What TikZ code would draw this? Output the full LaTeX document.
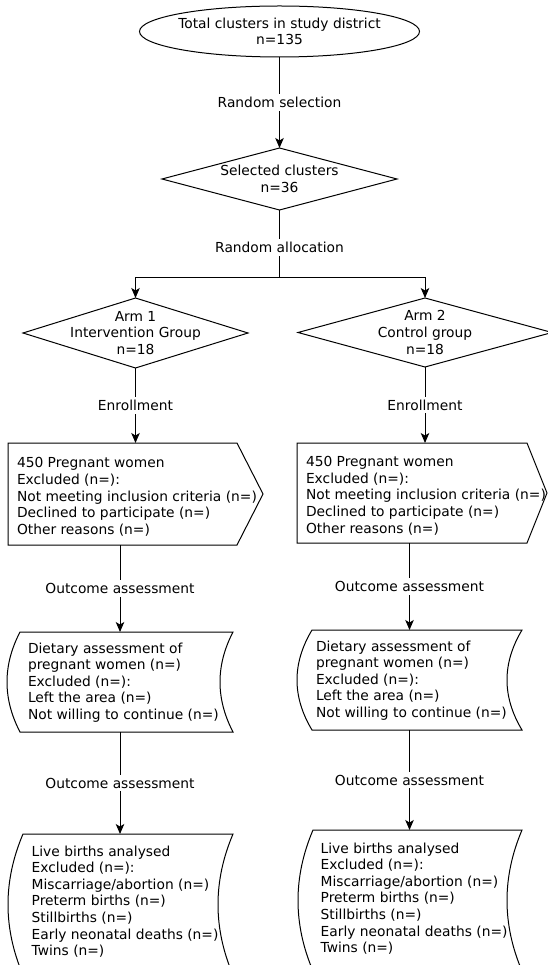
\documentclass[tikz,border=0pt]{standalone}
\usepackage{fontspec}
\setmainfont{DejaVu Sans}
\usetikzlibrary{arrows.meta,calc}

% data-storage outline: node name, bulge
\newcommand\dstore[2]{%
  \draw[plain] ($(#1.north west)+(#2,0)$) -- (#1.north east)
    .. controls ($(#1.north east)!1/3!(#1.south east)+(-4*#2/3,0)$) and ($(#1.north east)!2/3!(#1.south east)+(-4*#2/3,0)$) .. (#1.south east)
    -- ($(#1.south west)+(#2,0)$)
    .. controls ($(#1.south west)!1/3!(#1.north west)+(-#2/3,0)$) and ($(#1.south west)!2/3!(#1.north west)+(-#2/3,0)$) .. ($(#1.north west)+(#2,0)$) -- cycle;}
% signal outline: node name, point depth
\newcommand\sigshape[2]{%
  \draw[plain] (#1.north west) -- ($(#1.north east)+(-#2,0)$) -- (#1.east) -- ($(#1.south east)+(-#2,0)$) -- (#1.south west) -- cycle;}
\newcommand\diashape[1]{%
  \draw[plain] (#1.north) -- (#1.east) -- (#1.south) -- (#1.west) -- cycle;}

\tikzset{
  every node/.append style={font=\fontsize{13.8}{16.6}\selectfont},
  frame/.style={inner sep=0pt, outer sep=0pt, draw=none, align=center},
  lbl/.style={fill=white, inner sep=3pt},
  txt/.style={inner sep=0pt, outer sep=0pt, align=left, anchor=north west},
  plain/.style={line width=1pt, draw=black},
  conn/.style={line width=1pt, draw=black, -{Stealth[length=10pt,width=8.5pt,inset=2.5pt]}}
}

\begin{document}
\begin{tikzpicture}[x=1pt,y=-1pt]
\useasboundingbox (0,0) rectangle (547,965);

% top
\node[frame, minimum width=280pt, minimum height=51pt] (ell) at (279.5,31.5) {Total clusters in study district\\n=135};
\draw[plain] (ell.center) ellipse [x radius=140pt, y radius=25.5pt];

\node[frame, minimum width=235pt, minimum height=62pt] (sel) at (279.5,179) {Selected clusters\\n=36};
\diashape{sel}

% arms
\node[frame, minimum width=225pt, minimum height=70pt] (arm1) at (135.5,333) {Arm 1\\Intervention Group\\n=18};
\diashape{arm1}
\node[frame, minimum width=254pt, minimum height=69pt] (arm2) at (425,332.5) {Arm 2\\Control group\\n=18};
\diashape{arm2}

% enrollment boxes
\node[frame, minimum width=255pt, minimum height=102pt] (box1L) at (135.5,494) {};
\sigshape{box1L}{26}
\node[txt] (t1L) at (17,457.7) {450 Pregnant women\\Excluded (n=):\\Not meeting inclusion criteria (n=)\\Declined to participate (n=)\\Other reasons (n=)};

\node[frame, minimum width=250pt, minimum height=100pt] (box1R) at (422,493) {};
\sigshape{box1R}{20}
\node[txt] (t1R) at (306,456.4) {450 Pregnant women\\Excluded (n=):\\Not meeting inclusion criteria (n=)\\Declined to participate (n=)\\Other reasons (n=)};

% dietary boxes
\node[frame, minimum width=226pt, minimum height=100pt] (box2L) at (120,682) {};
\dstore{box2L}{13}
\node[txt] (t2L) at (28,642.7) {Dietary assessment of\\pregnant women (n=)\\Excluded (n=):\\Left the area (n=)\\Not willing to continue (n=)};

\node[frame, minimum width=225pt, minimum height=100pt] (box2R) at (409.5,680) {};
\dstore{box2R}{15}
\node[txt] (t2R) at (316,640.7) {Dietary assessment of\\pregnant women (n=)\\Excluded (n=):\\Left the area (n=)\\Not willing to continue (n=)};

% live birth boxes
\node[frame, minimum width=225pt, minimum height=141pt] (box3L) at (120.5,904.5) {};
\dstore{box3L}{15}
\node[txt] (t3L) at (31.7,845.7) {Live births analysed\\Excluded (n=):\\Miscarriage/abortion (n=)\\Preterm births (n=)\\Stillbirths (n=)\\Early neonatal deaths (n=)\\Twins (n=)};

\node[frame, minimum width=224pt, minimum height=141pt] (box3R) at (410,900.5) {};
\dstore{box3R}{15}
\node[txt] (t3R) at (320.7,842.7) {Live births analysed\\Excluded (n=):\\Miscarriage/abortion (n=)\\Preterm births (n=)\\Stillbirths (n=)\\Early neonatal deaths (n=)\\Twins (n=)};

% connectors
\draw[conn] (ell.south) -- node[lbl]{Random selection} (sel.north);
\coordinate (split) at ($(sel.south)+(0,68)$);
\draw[plain] (sel.south) -- node[lbl, pos=0.55]{Random allocation} (split);
\draw[conn] (split) -| (arm1.north);
\draw[conn] (split) -| (arm2.north);
\draw[conn] (arm1.south) -- node[lbl]{Enrollment} (arm1.south |- box1L.north);
\draw[conn] (arm2.south) -- node[lbl]{Enrollment} (arm2.south |- box1R.north);
\draw[conn] (box2L.north |- box1L.south) -- node[lbl]{Outcome assessment} (box2L.north);
\draw[conn] (box2R.north |- box1R.south) -- node[lbl]{Outcome assessment} (box2R.north);
\draw[conn] (box2L.south) -- node[lbl]{Outcome assessment} (box2L.south |- box3L.north);
\draw[conn] (box2R.south) -- node[lbl]{Outcome assessment} (box2R.south |- box3R.north);
\end{tikzpicture}
\end{document}
